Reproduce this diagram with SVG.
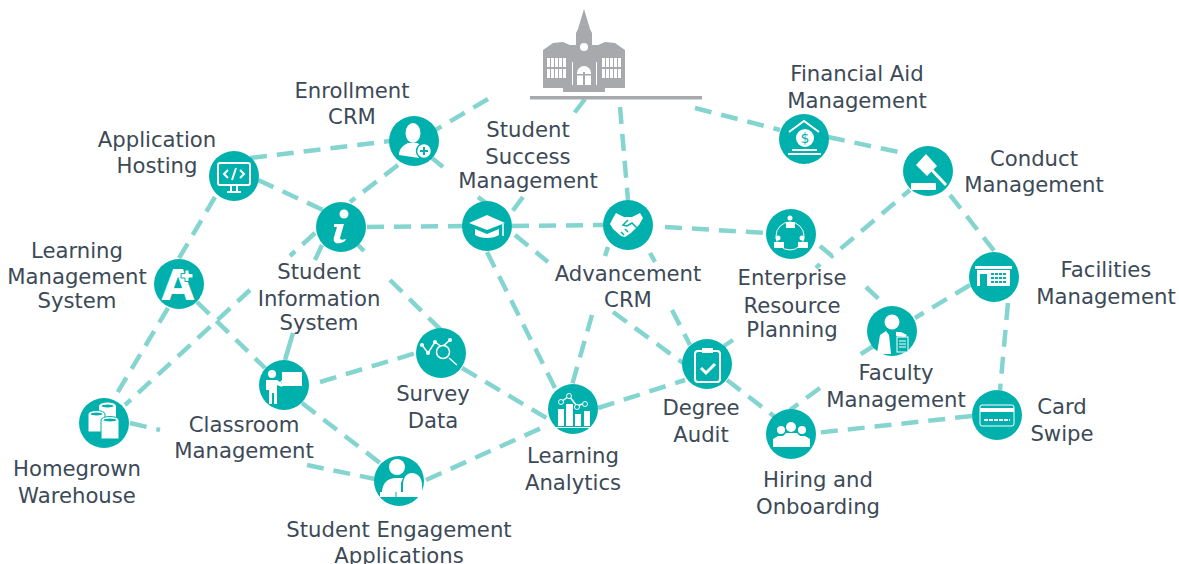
<svg xmlns="http://www.w3.org/2000/svg" width="1179" height="564" viewBox="0 0 1179 564">
<style>
.c{fill:none;stroke:#84d4d0;stroke-width:4.5;stroke-dasharray:17 10}
.s{fill:none;stroke:#84d4d0;stroke-width:4.5}
.n{fill:#00b0ac}
.w{fill:#fff}
.o{fill:none;stroke:#fff;stroke-width:2}
.t{font-family:"DejaVu Sans",Verdana,sans-serif;font-size:21.2px;fill:#3c4a57;text-anchor:middle}
.b{fill:#a7a9ac}
</style>
<rect width="1179" height="564" fill="#fff"/>
<g id="connectors">
<path class="c" d="M488 99L432 132M585 99L572 116M523 197L508 217M620 107L628 200M695 108L780 130M828 137L903 153M432 158L443 167M478 197L490 206M250 158L390 141M258 180L323 210M215 197L178 260M398 165L350 202M367 227L463 226M512 226L604 225M665 227L766 233M820 246L832 256L910 190M820 264L816 268M733 340L724 346M866 287L885 305M950 195L995 252M970 285L915 318M1008 303L1000 390M875 345L858 356M820 388L790 410M972 416L815 433M727 380L775 417M515 235L548 262M613 312L683 363M672 310L690 345M650 253L655 262M608 247L605 256M592 315L572 385M487 252L555 388M358 245L364 251M390 280L441 330M322 245L315 260M315 233L290 256M250 290L125 405M168 308L113 400M197 302L265 368M320 382L416 353M302 403L380 463M130 423L160 430M307 465L375 479M462 368L550 420M426 480L548 425M598 408L685 380"/>
<path class="s" d="M293 333L285 360"/>
</g>
<g id="building">
<rect class="b" x="530" y="96" width="172" height="3.5"/>
<path class="b" d="M584 9L590 29L592 33V45H598L605 42L615 43L625 50V88H605V92H563V88H543V50L553 43L563 42L570 45H576V33L578 29Z"/>
<path class="w" d="M547 58h3v20h-3zM551 58h3v20h-3zM555 58h3v20h-3zM559 58h3v20h-3zM563 58h3v20h-3zM602 58h3v20h-3zM606 58h3v20h-3zM610 58h3v20h-3zM614 58h3v20h-3zM618 58h3v20h-3zM572 62h1v23h-1zM596 62h1v23h-1z"/>
<rect class="b" x="546" y="67" width="22" height="2"/><rect class="b" x="601" y="67" width="21" height="2"/>
<circle class="w" cx="584" cy="47" r="4"/>
<path class="w" d="M577 85V73a7 7 0 0 1 14 0V85Z"/>
<path class="b" d="M583 72h2v13h-2zM577 74h14v1.500h-14z"/>
</g>
<g id="application-hosting"><circle class="n" cx="234" cy="176" r="25"/><rect class="o" x="218" y="163" width="32" height="22" rx="2"/><path class="o" d="M228 170l-4 4 4 4M240 170l4 4-4 4M236 168l-4 12M231 185v6M237 185v6M227 192h14"/><text class="t" x="157" y="147">Application</text><text class="t" x="157" y="173">Hosting</text></g>
<g id="enrollment-crm"><circle class="n" cx="414" cy="141" r="25"/><ellipse class="w" cx="413" cy="133" rx="7.500" ry="10"/><path class="w" d="M399 155c0-7 5-10 9-12h9l6 3a9 9 0 0 0-4 12Z"/><circle cx="424" cy="151" r="7.500" fill="#fff" stroke="#00b0ac" stroke-width="1.500"/><path d="M424 147v8M420 151h8" stroke="#00b0ac" stroke-width="2"/><text class="t" x="352" y="98">Enrollment</text><text class="t" x="352" y="124">CRM</text></g>
<g id="student-information-system"><circle class="n" cx="341" cy="227" r="25"/><circle class="w" cx="344" cy="214" r="4.500"/><path class="w" d="M334 224h10l-4 14c0 2 2 2 6 1l-1 2c-6 4-13 3-11-4l3-10h-3Z"/><text class="t" x="319" y="279">Student</text><text class="t" x="319" y="306">Information</text><text class="t" x="319" y="330">System</text></g>
<g id="student-success-management"><circle class="n" cx="487" cy="226" r="25"/><path class="w" d="M487 215l18 8-18 7-18-7Z"/><path class="w" d="M475 229l12 5 12-5v6c-6 4-18 4-24 0Z"/><path d="M503 224v12" stroke="#fff" stroke-width="1.500"/><text class="t" x="528" y="137">Student</text><text class="t" x="528" y="164">Success</text><text class="t" x="528" y="188">Management</text></g>
<g id="advancement-crm"><circle class="n" cx="628" cy="225" r="25"/><path class="w" d="M613 218l3-5 8 4 8 0 8-4 3 5-4 7-8 8-6 4-4-1-8-7-3-5Z"/><path d="M628 220l-5 5 4 1 5-3 7 7M621 232l3 3M625 229l3 3" fill="none" stroke="#00b0ac" stroke-width="1.500"/><text class="t" x="628" y="281">Advancement</text><text class="t" x="628" y="307">CRM</text></g>
<g id="financial-aid-management"><circle class="n" cx="804" cy="139" r="25"/><path class="o" d="M789 132l15-11 15 11"/><circle class="w" cx="805" cy="138" r="9"/><text x="805" y="143" font-family="DejaVu Sans,sans-serif" font-size="14" fill="#00b0ac" text-anchor="middle">$</text><rect class="w" x="792" y="149" width="25" height="2"/><rect class="w" x="788" y="153" width="33" height="2"/><text class="t" x="857" y="81">Financial Aid</text><text class="t" x="857" y="108">Management</text></g>
<g id="conduct-management"><circle class="n" cx="928" cy="171" r="25"/><path class="w" d="M916 165l10-11 11 12-10 10Z"/><path d="M929 167l17 18" stroke="#fff" stroke-width="3"/><rect class="w" x="911" y="183" width="25" height="7" rx="1"/><text class="t" x="1034" y="166">Conduct</text><text class="t" x="1034" y="192">Management</text></g>
<g id="enterprise-resource-planning"><circle class="n" cx="791" cy="234" r="25"/><circle cx="790" cy="236" r="14" fill="none" stroke="#fff" stroke-width="1"/><circle class="w" cx="790" cy="218" r="2.500"/><rect class="w" x="786" y="222" width="9" height="6"/><circle class="w" cx="778" cy="238" r="2.500"/><rect class="w" x="774" y="242" width="10" height="6"/><circle class="w" cx="802" cy="238" r="2.500"/><rect class="w" x="798" y="242" width="10" height="6"/><text class="t" x="792" y="285">Enterprise</text><text class="t" x="792" y="313">Resource</text><text class="t" x="792" y="337">Planning</text></g>
<g id="facilities-management"><circle class="n" cx="994" cy="277" r="25"/><rect class="w" x="975" y="266" width="37" height="3"/><rect class="w" x="977" y="270" width="33" height="16"/><rect class="n" x="980" y="274" width="7" height="12"/><path d="M991 274h15M991 278h15M991 282h15" stroke="#00b0ac" stroke-width="2" stroke-dasharray="3 1"/><text class="t" x="1106" y="277">Facilities</text><text class="t" x="1106" y="304">Management</text></g>
<g id="faculty-management"><circle class="n" cx="892" cy="331" r="25"/><circle class="w" cx="892" cy="322" r="7.500"/><path class="w" d="M877 353l3-18 6-4 3 4 2 19h-12ZM896 332l5 0 6 3-2 2-9-1Z"/><rect x="897" y="337" width="11" height="15" fill="#00b0ac" stroke="#fff" stroke-width="1"/><path d="M899 341h7M899 344h7M899 347h7" stroke="#fff"/><text class="t" x="896" y="380">Faculty</text><text class="t" x="896" y="407">Management</text></g>
<g id="card-swipe"><circle class="n" cx="997" cy="415" r="25"/><rect x="980" y="405" width="34" height="21" rx="2" fill="none" stroke="#fff" stroke-width="1"/><rect class="w" x="980" y="408" width="34" height="4"/><path d="M984 420h26" stroke="#fff" stroke-dasharray="4 1" stroke-width="2"/><text class="t" x="1062" y="414">Card</text><text class="t" x="1062" y="441">Swipe</text></g>
<g id="hiring-and-onboarding"><circle class="n" cx="791" cy="434" r="25"/><circle class="w" cx="791" cy="427" r="5"/><circle class="w" cx="781" cy="430" r="4"/><circle class="w" cx="802" cy="430" r="4"/><path class="w" d="M773 447v-8l5-3h5l3-3h11l3 3h5l5 3v8Z"/><text class="t" x="818" y="487">Hiring and</text><text class="t" x="818" y="514">Onboarding</text></g>
<g id="degree-audit"><circle class="n" cx="707" cy="364" r="25"/><rect class="o" x="695" y="351" width="25" height="31" rx="3"/><rect class="w" x="702" y="348" width="11" height="5"/><path d="M701 368l5 5 9-9" fill="none" stroke="#fff" stroke-width="3"/><text class="t" x="701" y="415">Degree</text><text class="t" x="701" y="442">Audit</text></g>
<g id="learning-analytics"><circle class="n" cx="573" cy="409" r="25"/><rect class="w" x="558" y="409" width="6" height="17"/><rect class="w" x="566" y="404" width="7" height="22"/><rect class="w" x="575" y="414" width="6" height="12"/><rect class="w" x="584" y="411" width="6" height="15"/><rect class="w" x="555" y="427" width="36" height="1"/><path d="M561 402l8-6 8 10 8-3" fill="none" stroke="#fff" stroke-width="1.500"/><circle cx="561" cy="402" r="2.500" fill="#00b0ac" stroke="#fff"/><circle cx="569" cy="396" r="2.500" fill="#00b0ac" stroke="#fff"/><circle cx="577" cy="407" r="2.500" fill="#00b0ac" stroke="#fff"/><circle cx="585" cy="404" r="2.500" fill="#00b0ac" stroke="#fff"/><text class="t" x="573" y="463">Learning</text><text class="t" x="573" y="490">Analytics</text></g>
<g id="survey-data"><circle class="n" cx="441" cy="353" r="25"/><path d="M422 345l6 8 7-11 7 5 8-7M449 358l8 7" fill="none" stroke="#fff" stroke-width="1.500"/><circle cx="443" cy="352" r="6.500" fill="#00b0ac" stroke="#fff" stroke-width="1.500"/><circle class="w" cx="435" cy="342" r="2"/><circle class="w" cx="428" cy="353" r="2"/><circle class="w" cx="450" cy="340" r="2"/><circle class="w" cx="422" cy="345" r="2"/><text class="t" x="433" y="401">Survey</text><text class="t" x="433" y="428">Data</text></g>
<g id="classroom-management"><circle class="n" cx="284" cy="385" r="25"/><circle class="w" cx="272" cy="374" r="4"/><path class="w" d="M266 380h11l6 4-1 3-5-2v19h-3v-11h-2v11h-3v-14h-3Z"/><rect class="w" x="282" y="372" width="20" height="14"/><path d="M278 385l7-7" stroke="#fff" stroke-width="1.500"/><text class="t" x="244" y="432">Classroom</text><text class="t" x="244" y="458">Management</text></g>
<g id="student-engagement-applications"><circle class="n" cx="399" cy="481" r="25"/><circle class="w" cx="397" cy="467" r="8"/><path class="w" d="M382 493c0-10 6-15 14-15h7l-2 5v10Z"/><path class="w" d="M403 497v-12c0-8 4-12 9-12s10 4 10 12v12Z"/><rect class="w" x="380" y="492" width="32" height="5"/><path d="M396 492v5" stroke="#00b0ac"/><text class="t" x="399" y="537">Student Engagement</text><text class="t" x="399" y="563">Applications</text></g>
<g id="homegrown-warehouse"><circle class="n" cx="104" cy="423" r="25"/><path class="w" d="M99 406a8.500 3.500 0 0 1 17 0v20h-17Z"/><ellipse cx="107.500" cy="406" rx="6" ry="1.500" fill="#00b0ac"/><path class="w" d="M88 414a8.500 3.500 0 0 1 17 0v18h-17Z" stroke="#00b0ac"/><ellipse cx="96.500" cy="414" rx="6" ry="1.500" fill="#00b0ac"/><path class="w" d="M101 420a9 3.500 0 0 1 18 0v19h-18Z" stroke="#00b0ac"/><ellipse cx="110" cy="420" rx="6.500" ry="1.500" fill="#00b0ac"/><text class="t" x="77" y="476">Homegrown</text><text class="t" x="77" y="503">Warehouse</text></g>
<g id="learning-management-system"><circle class="n" cx="179" cy="284" r="25"/><text x="178" y="300" font-family="DejaVu Sans,sans-serif" font-weight="bold" font-size="43" fill="#fff" text-anchor="middle">A</text><path class="w" d="M185 270h4v3.500h4v4.500h-4v3.500h-4v-3.500h-4v-4.500h4Z" stroke="#00b0ac"/><text class="t" x="77" y="258">Learning</text><text class="t" x="77" y="284">Management</text><text class="t" x="77" y="308">System</text></g>
</svg>
